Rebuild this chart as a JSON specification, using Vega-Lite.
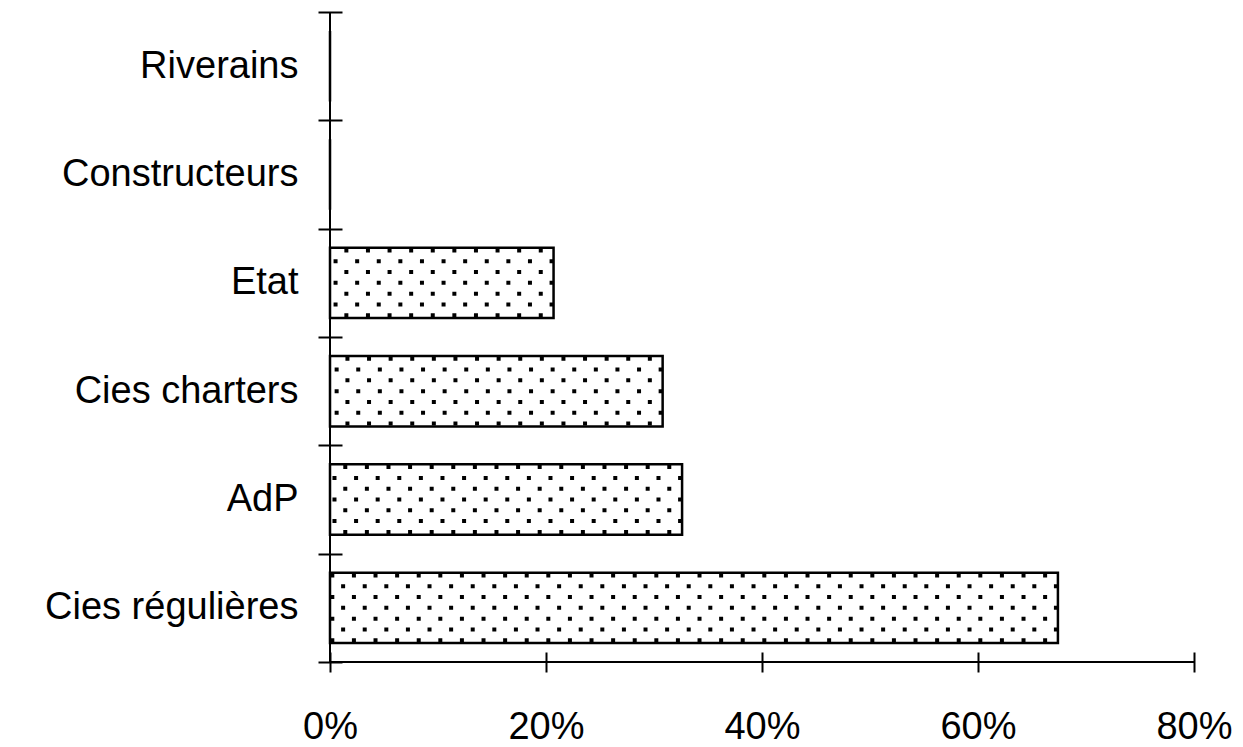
{
  "$schema": "https://vega.github.io/schema/vega-lite/v6.json",
  "width": 864,
  "height": 650,
  "autosize": {"type": "none"},
  "padding": {"left": 330, "top": 12, "right": 49, "bottom": 85},
  "background": "white",
  "config": {"view": {"stroke": null}, "font": "Liberation Sans"},
  "data": {
    "values": [
      {"category": "Riverains", "value": 0},
      {"category": "Constructeurs", "value": 0},
      {"category": "Etat", "value": 0.207},
      {"category": "Cies charters", "value": 0.308},
      {"category": "AdP", "value": 0.326},
      {"category": "Cies régulières", "value": 0.674}
    ]
  },
  "layer": [
    {
      "encoding": {
        "y": {
          "field": "category",
          "type": "nominal",
          "sort": ["Riverains", "Constructeurs", "Etat", "Cies charters", "AdP", "Cies régulières"],
          "scale": {"paddingInner": 0, "paddingOuter": 0},
          "axis": {
            "title": null,
            "domain": false,
            "tickBand": "extent",
            "tickSize": 24,
            "offset": -12,
            "tickColor": "black",
            "tickWidth": 2,
            "labelFontSize": 38,
            "labelColor": "black",
            "labelPadding": 20,
            "labelFont": "Liberation Sans",
            "labelLimit": 500,
            "zindex": 1
          }
        },
        "x": {
          "field": "value",
          "type": "quantitative",
          "title": null,
          "scale": {"domain": [0, 0.8], "nice": false},
          "axis": {
            "title": null,
            "domain": false,
            "grid": false,
            "values": [0, 0.2, 0.4, 0.6, 0.8],
            "format": ".0%",
            "tickSize": 20,
            "offset": -10,
            "tickWidth": 2,
            "tickColor": "black",
            "labelFontSize": 38,
            "labelPadding": 36,
            "labelColor": "black",
            "labelFont": "Liberation Sans",
            "labelFlush": false,
            "zindex": 1
          }
        }
      },
      "layer": [
        {"mark": {"type": "bar", "fill": "white", "stroke": "black", "strokeWidth": 2.5, "height": {"band": 0.65}}},
        {"transform": [{"filter": "datum.value > 0"}], "mark": {"type": "rule", "color": "black", "strokeWidth": 4, "strokeCap": "butt", "strokeDash": [4, 17.6], "strokeDashOffset": 10.8, "yOffset": -32.4}, "encoding": {"x2": {"datum": 0}}},
        {"transform": [{"filter": "datum.value > 0"}], "mark": {"type": "rule", "color": "black", "strokeWidth": 4, "strokeCap": "butt", "strokeDash": [4, 17.6], "strokeDashOffset": 0, "yOffset": -21.6}, "encoding": {"x2": {"datum": 0}}},
        {"transform": [{"filter": "datum.value > 0"}], "mark": {"type": "rule", "color": "black", "strokeWidth": 4, "strokeCap": "butt", "strokeDash": [4, 17.6], "strokeDashOffset": 10.8, "yOffset": -10.8}, "encoding": {"x2": {"datum": 0}}},
        {"transform": [{"filter": "datum.value > 0"}], "mark": {"type": "rule", "color": "black", "strokeWidth": 4, "strokeCap": "butt", "strokeDash": [4, 17.6], "strokeDashOffset": 0, "yOffset": 0}, "encoding": {"x2": {"datum": 0}}},
        {"transform": [{"filter": "datum.value > 0"}], "mark": {"type": "rule", "color": "black", "strokeWidth": 4, "strokeCap": "butt", "strokeDash": [4, 17.6], "strokeDashOffset": 10.8, "yOffset": 10.8}, "encoding": {"x2": {"datum": 0}}},
        {"transform": [{"filter": "datum.value > 0"}], "mark": {"type": "rule", "color": "black", "strokeWidth": 4, "strokeCap": "butt", "strokeDash": [4, 17.6], "strokeDashOffset": 0, "yOffset": 21.6}, "encoding": {"x2": {"datum": 0}}},
        {"transform": [{"filter": "datum.value > 0"}], "mark": {"type": "rule", "color": "black", "strokeWidth": 4, "strokeCap": "butt", "strokeDash": [4, 17.6], "strokeDashOffset": 10.8, "yOffset": 32.4}, "encoding": {"x2": {"datum": 0}}}
      ]
    },
    {
      "mark": {"type": "rule", "color": "black", "strokeWidth": 2},
      "encoding": {"x": {"datum": 0, "type": "quantitative", "title": null}}
    },
    {
      "mark": {"type": "rule", "color": "black", "strokeWidth": 2},
      "encoding": {"y": {"value": "height"}}
    }
  ]
}
